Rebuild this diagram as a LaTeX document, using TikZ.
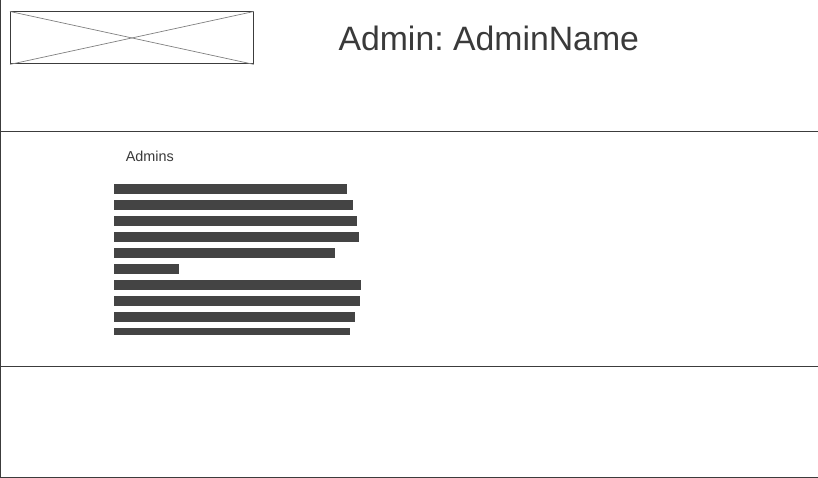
\documentclass[tikz,border=0pt]{standalone}
\usepackage{fontspec}
\setmainfont{Liberation Sans}
\frenchspacing
\definecolor{linegray}{HTML}{3C3C3C}
\definecolor{bargray}{HTML}{444444}
\definecolor{textgray}{HTML}{3A3A3A}

\begin{document}
\begin{tikzpicture}[x=1pt, y=-1pt]

    \tikzstyle{frameline} = [draw=linegray, line width=0.9pt];
    \tikzstyle{placeholder} = [draw=linegray, line width=0.9pt, minimum width=243pt, minimum height=52pt, inner sep=0, anchor=north west];
    \tikzstyle{crossline} = [draw=gray, line width=0.7pt];
    \tikzstyle{textbar} = [fill=bargray];

    \useasboundingbox (0,0) rectangle (818,478);

    % frame
    \draw[frameline] (0.5,0) -- (0.5,477.5);
    \draw[frameline] (0,131.5) -- (818,131.5);
    \draw[frameline] (0,366.5) -- (818,366.5);
    \draw[frameline] (0,477.5) -- (818,477.5);

    % logo
    \node[placeholder] (logo) at (10,11.5) {};
    \draw[crossline] (logo.north west) -- (logo.south east);
    \draw[crossline] (logo.south west) -- (logo.north east);

    \node[anchor=base west, inner sep=0, text=textgray, font=\fontsize{33.8}{40}\selectfont] (title) at (338.3,51) {Admin: AdminName};

    \node[anchor=base west, inner sep=0, text=textgray, font=\fontsize{14.4}{17}\selectfont] (admins) at (125.6,162) {Admins};

    % list
    \foreach \w [count=\i from 0] in {347,353,357,359,335,179,361,360,355} {
        \fill[textbar] (114,184+16*\i) rectangle (\w,194+16*\i);
    }
    \fill[textbar] (114,328) rectangle (350,334.7);

\end{tikzpicture}
\end{document}
